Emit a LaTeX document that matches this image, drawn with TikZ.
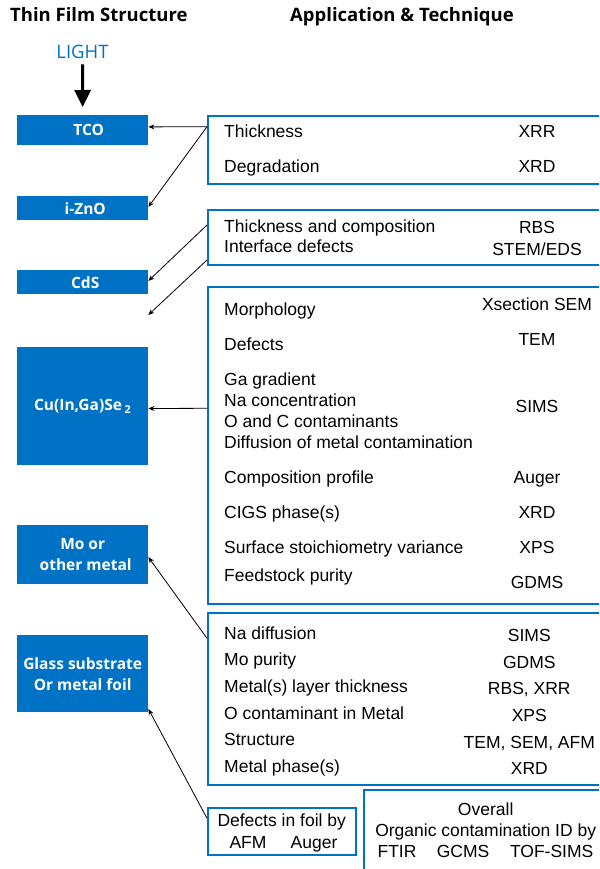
\documentclass[tikz,border=0pt]{standalone}
\usepackage{fontspec}
\setmainfont{Liberation Sans}
\newfontfamily\hfont{Open Sans}
\usetikzlibrary{arrows.meta,calc}
\definecolor{cblue}{RGB}{0,114,198}
\begin{document}
\begin{tikzpicture}[x=1pt,y=-1pt,
  layer/.style={fill=cblue, text=white, font=\hfont\bfseries\fontsize{15.5}{21}\selectfont, align=center, inner sep=0pt, anchor=north west, minimum width=131pt},
  tbox/.style={draw=cblue, line width=2pt, anchor=north west, inner sep=0pt},
  txt/.style={font=\fontsize{17.5}{21}\selectfont, inner sep=0pt, anchor=base west},
  tech/.style={font=\fontsize{17.5}{21}\selectfont, inner sep=0pt, anchor=base},
  title/.style={font=\hfont\bfseries\fontsize{18.5}{22}\selectfont, inner sep=0pt, anchor=base west},
  arr/.style={-{Stealth[length=6pt,width=5pt]}, line width=0.8pt}]
\useasboundingbox (0,0) rectangle (599,869);
\clip (0,0) rectangle (599,869);

% titles
\node[title] (tleft) at (10,22) {Thin Film Structure};
\node[title] (tright) at (290,22) {Application \& Technique};

% light
\node[font=\hfont\fontsize{18.5}{22}\selectfont, text=cblue, inner sep=0pt, anchor=base] (light) at (82.5,59) {LIGHT};

% layers
\node[layer, minimum height=30pt] (tco) at (17,115) {\hspace*{12pt}TCO};
\node[layer, minimum height=24pt] (izno) at (17,196) {\hspace*{5pt}i-ZnO};
\node[layer, minimum height=24pt] (cds) at (17,270) {\hspace*{5pt}CdS};
\node[layer, minimum height=118pt] (cigs) at (17,347) {Cu(In,Ga)Se\,\textsubscript{2}};
\node[layer, minimum height=59pt] (mo) at (17,525) {Mo or\\\hspace*{6pt}other metal};
\node[layer, minimum height=77pt] (glass) at (17,635) {Glass substrate\\Or metal foil};

\draw[line width=3pt, -{Triangle[length=17pt,width=16pt]}, shorten <=5pt, shorten >=8pt] (light.south) -- (tco.north);

% right boxes
\node[tbox, minimum width=400pt, minimum height=68pt] (b1) at (207,115) {};
\node[tbox, minimum width=400pt, minimum height=55pt] (b2) at (207,209) {};
\node[tbox, minimum width=400pt, minimum height=317pt] (b3) at (207,286) {};
\node[tbox, minimum width=400pt, minimum height=171.5pt] (b4) at (207,612.3) {};
\node[tbox, minimum width=147.5pt, minimum height=47.5pt] (b5) at (207,806.7) {};
\node[tbox, minimum width=250pt, minimum height=90pt] (b6) at (363.3,789.3) {};

% box 1
\node[txt] (a1) at (224,137.7) {Thickness};
\node[tech] (a1t) at (537,137.7) {XRR};
\node[txt] (a2) at (224,172.7) {Degradation};
\node[tech] (a2t) at (537,172.7) {XRD};

% box 2
\node[txt] (c1) at (224,232.3) {Thickness and composition};
\node[tech] (c1t) at (537,233.3) {RBS};
\node[txt] (c2) at (224,252.7) {Interface defects};
\node[tech] (c2t) at (537,255) {STEM/EDS};

% box 3
\node[txt] (d1) at (224,315) {Morphology};
\node[tech] (d1t) at (537,310.7) {Xsection SEM};
\node[txt] (d2) at (224,350) {Defects};
\node[tech] (d2t) at (537,345.7) {TEM};
\node[txt] (d3) at (224,385.3) {Ga gradient};
\node[txt] (d4) at (224,406) {Na concentration};
\node[txt] (d5) at (224,427) {O and C contaminants};
\node[txt] (d6) at (224,448) {Diffusion of metal contamination};
\node[tech] (d3t) at (537,412.7) {SIMS};
\node[txt] (d7) at (224,483) {Composition profile};
\node[tech] (d7t) at (537,483) {Auger};
\node[txt] (d8) at (224,518) {CIGS phase(s)};
\node[tech] (d8t) at (537,518) {XRD};
\node[txt] (d9) at (224,553) {Surface stoichiometry variance};
\node[tech] (d9t) at (537,553) {XPS};
\node[txt] (d10) at (224,581) {Feedstock purity};
\node[tech] (d10t) at (537,588.3) {GDMS};

% box 4
\node[txt] (e1) at (224,639) {Na diffusion};
\node[tech] (e1t) at (529.3,641.7) {SIMS};
\node[txt] (e2) at (224,665.3) {Mo purity};
\node[tech] (e2t) at (529.3,668) {GDMS};
\node[txt] (e3) at (224,692) {Metal(s) layer thickness};
\node[tech] (e3t) at (529.3,694.7) {RBS, XRR};
\node[txt] (e4) at (224,719) {O contaminant in Metal};
\node[tech] (e4t) at (529.3,721.3) {XPS};
\node[txt] (e5) at (224,745.7) {Structure};
\node[tech] (e5t) at (529.3,748) {TEM, SEM, AFM};
\node[txt] (e6) at (224,772.3) {Metal phase(s)};
\node[tech] (e6t) at (529.3,774.7) {XRD};

% box 5
\node[tech] (f1) at (281.7,826.7) {Defects in foil by};
\node[tech] (f2) at (248,848.3) {AFM};
\node[tech] (f3) at (314,848.3) {Auger};

% box 6
\node[tech] (g1) at (485.7,815) {Overall};
\node[tech] (g2) at (485.7,836) {Organic contamination ID by};
\node[tech] (g3) at (397,857.7) {FTIR};
\node[tech] (g4) at (463,857.7) {GCMS};
\node[tech] (g5) at (551.7,857.7) {TOF-SIMS};

% connectors
\coordinate (gapend) at (148.3,315);
\draw[arr] ($(b1.north west)+(0,11.7)$) -- ($(tco.east)+(0,-3.3)$);
\draw[arr] ($(b1.north west)+(0,11.7)$) -- ($(izno.east)+(0,-1.3)$);
\draw[arr] ($(b2.north west)+(0,16)$) -- ($(cds.east)+(0,-1.3)$);
\draw[arr] ($(b2.north west)+(0,51)$) -- (gapend);
\draw[arr] ($(b3.north west)+(0,122.3)$) -- ($(cigs.east)+(0,2.3)$);
\draw[arr] ($(b4.north west)+(0,26)$) -- ($(mo.east)+(0,2.5)$);
\draw[arr] ($(b5.north west)+(0,11.6)$) -- ($(glass.south east)+(0,-3.4)$);
\end{tikzpicture}
\end{document}
